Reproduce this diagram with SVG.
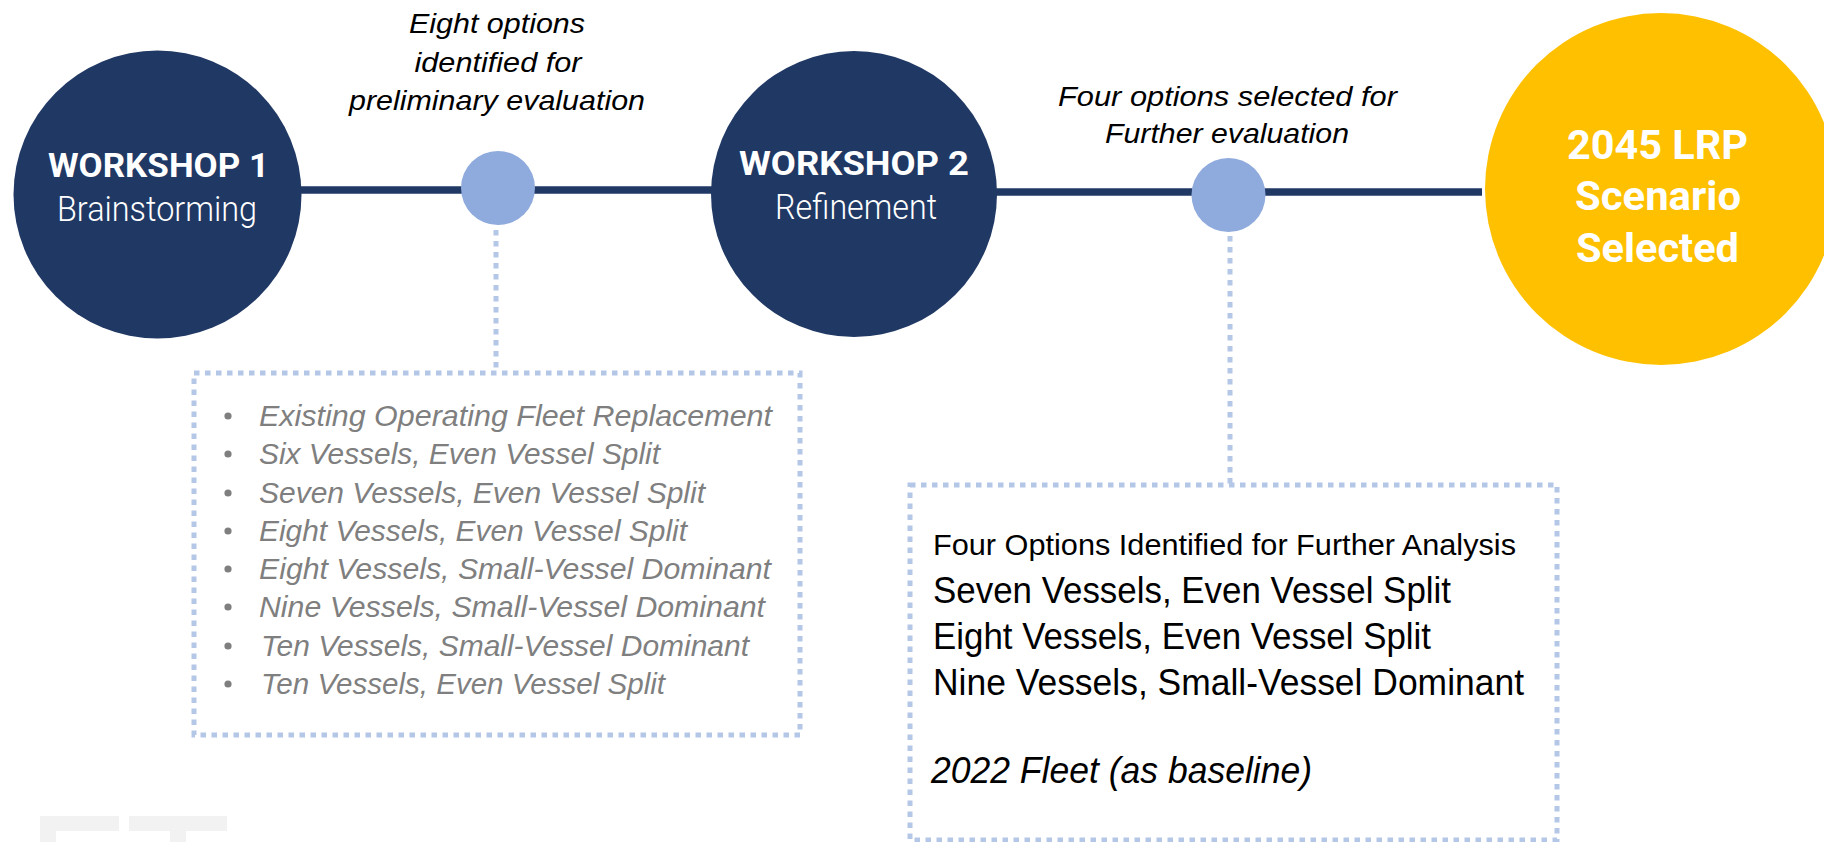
<svg xmlns="http://www.w3.org/2000/svg" width="1824" height="842" viewBox="0 0 1824 842">
<style>
.navy{fill:#203864}
.dot{fill:#8faadc}
.link{stroke:#203864;stroke-width:7.5;fill:none}
.dotted{stroke:#b4c7e7;stroke-width:5;stroke-dasharray:5.5 5.5;fill:none}
.hd{font-family:Roboto,"Liberation Sans",sans-serif;font-weight:700;fill:#fff;text-anchor:middle}
.sub{font-family:Roboto,"Liberation Sans",sans-serif;font-weight:300;fill:#fff;text-anchor:middle}
.lab{font-family:"Liberation Sans",Arial,sans-serif;font-style:italic;font-size:28px;fill:#000;text-anchor:middle}
.li{font-family:"Liberation Sans",Arial,sans-serif;font-style:italic;font-size:29.5px;fill:#7f7f7f}
.bx{font-family:"Liberation Sans",Arial,sans-serif;fill:#000}
.wm{fill:#f2f2f2}
</style>
<rect width="1824" height="842" fill="#fff"/>
<g id="watermark">
<path class="wm" d="M40 816H119V831H56V842H40Z"/>
<path class="wm" d="M129 816H227V831H186V842H170V831H129Z"/>
</g>
<g id="connectors">
<line class="link" x1="290" y1="190" x2="720" y2="190"/>
<line class="link" x1="990" y1="192" x2="1482" y2="192"/>
<line class="dotted" x1="496" y1="230" x2="496" y2="373"/>
<line class="dotted" x1="1230" y1="236" x2="1230" y2="485"/>
</g>
<g id="workshop1">
<circle class="navy" cx="157.5" cy="194.5" r="144"/>
<text class="hd" x="158.5" y="177" font-size="34" textLength="221" lengthAdjust="spacingAndGlyphs">WORKSHOP 1</text>
<text class="sub" x="157" y="221" font-size="35" textLength="200" lengthAdjust="spacingAndGlyphs">Brainstorming</text>
</g>
<g id="milestone1">
<circle class="dot" cx="498" cy="188" r="37"/>
</g>
<g id="label1">
<text class="lab" x="497" y="33" textLength="176" lengthAdjust="spacingAndGlyphs">Eight options</text>
<text class="lab" x="498" y="72" textLength="167" lengthAdjust="spacingAndGlyphs">identified for</text>
<text class="lab" x="497" y="110" textLength="296" lengthAdjust="spacingAndGlyphs">preliminary evaluation</text>
</g>
<g id="workshop2">
<circle class="navy" cx="854" cy="194" r="143"/>
<text class="hd" x="854" y="175" font-size="34" textLength="230" lengthAdjust="spacingAndGlyphs">WORKSHOP 2</text>
<text class="sub" x="856" y="219" font-size="35" textLength="162" lengthAdjust="spacingAndGlyphs">Refinement</text>
</g>
<g id="milestone2">
<circle class="dot" cx="1228.5" cy="195" r="37"/>
</g>
<g id="label2">
<text class="lab" x="1227.5" y="106" textLength="339" lengthAdjust="spacingAndGlyphs">Four options selected for</text>
<text class="lab" x="1227" y="143" textLength="244" lengthAdjust="spacingAndGlyphs">Further evaluation</text>
</g>
<g id="final">
<circle cx="1661" cy="189" r="176" fill="#ffc000"/>
<text class="hd" x="1657.5" y="159" font-size="40" textLength="181" lengthAdjust="spacingAndGlyphs">2045 LRP</text>
<text class="hd" x="1658" y="210" font-size="40" textLength="166" lengthAdjust="spacingAndGlyphs">Scenario</text>
<text class="hd" x="1657.5" y="262" font-size="40" textLength="163" lengthAdjust="spacingAndGlyphs">Selected</text>
</g>
<g id="box1">
<rect class="dotted" x="194" y="373" width="606" height="362"/>
<g fill="#7f7f7f">
<circle cx="228" cy="416" r="3.6"/><circle cx="228" cy="454" r="3.6"/><circle cx="228" cy="493" r="3.6"/><circle cx="228" cy="531" r="3.6"/>
<circle cx="228" cy="569" r="3.6"/><circle cx="228" cy="607" r="3.6"/><circle cx="228" cy="646" r="3.6"/><circle cx="228" cy="684" r="3.6"/>
</g>
<text class="li" x="259" y="426" textLength="513" lengthAdjust="spacingAndGlyphs">Existing Operating Fleet Replacement</text>
<text class="li" x="259" y="464" textLength="401" lengthAdjust="spacingAndGlyphs">Six Vessels, Even Vessel Split</text>
<text class="li" x="259" y="503" textLength="446" lengthAdjust="spacingAndGlyphs">Seven Vessels, Even Vessel Split</text>
<text class="li" x="259" y="541" textLength="428" lengthAdjust="spacingAndGlyphs">Eight Vessels, Even Vessel Split</text>
<text class="li" x="259" y="579" textLength="512" lengthAdjust="spacingAndGlyphs">Eight Vessels, Small-Vessel Dominant</text>
<text class="li" x="259" y="617" textLength="506" lengthAdjust="spacingAndGlyphs">Nine Vessels, Small-Vessel Dominant</text>
<text class="li" x="261" y="656" textLength="488" lengthAdjust="spacingAndGlyphs">Ten Vessels, Small-Vessel Dominant</text>
<text class="li" x="261" y="694" textLength="404" lengthAdjust="spacingAndGlyphs">Ten Vessels, Even Vessel Split</text>
</g>
<g id="box2">
<rect class="dotted" x="910" y="485" width="647" height="355"/>
<text class="bx" x="933" y="555" font-size="30" textLength="583" lengthAdjust="spacingAndGlyphs">Four Options Identified for Further Analysis</text>
<text class="bx" x="933" y="603" font-size="36" textLength="518" lengthAdjust="spacingAndGlyphs">Seven Vessels, Even Vessel Split</text>
<text class="bx" x="933" y="649" font-size="36" textLength="498" lengthAdjust="spacingAndGlyphs">Eight Vessels, Even Vessel Split</text>
<text class="bx" x="933" y="695" font-size="36" textLength="591" lengthAdjust="spacingAndGlyphs">Nine Vessels, Small-Vessel Dominant</text>
<text class="bx" x="931" y="783" font-size="36" font-style="italic" textLength="381" lengthAdjust="spacingAndGlyphs">2022 Fleet (as baseline)</text>
</g>
</svg>
